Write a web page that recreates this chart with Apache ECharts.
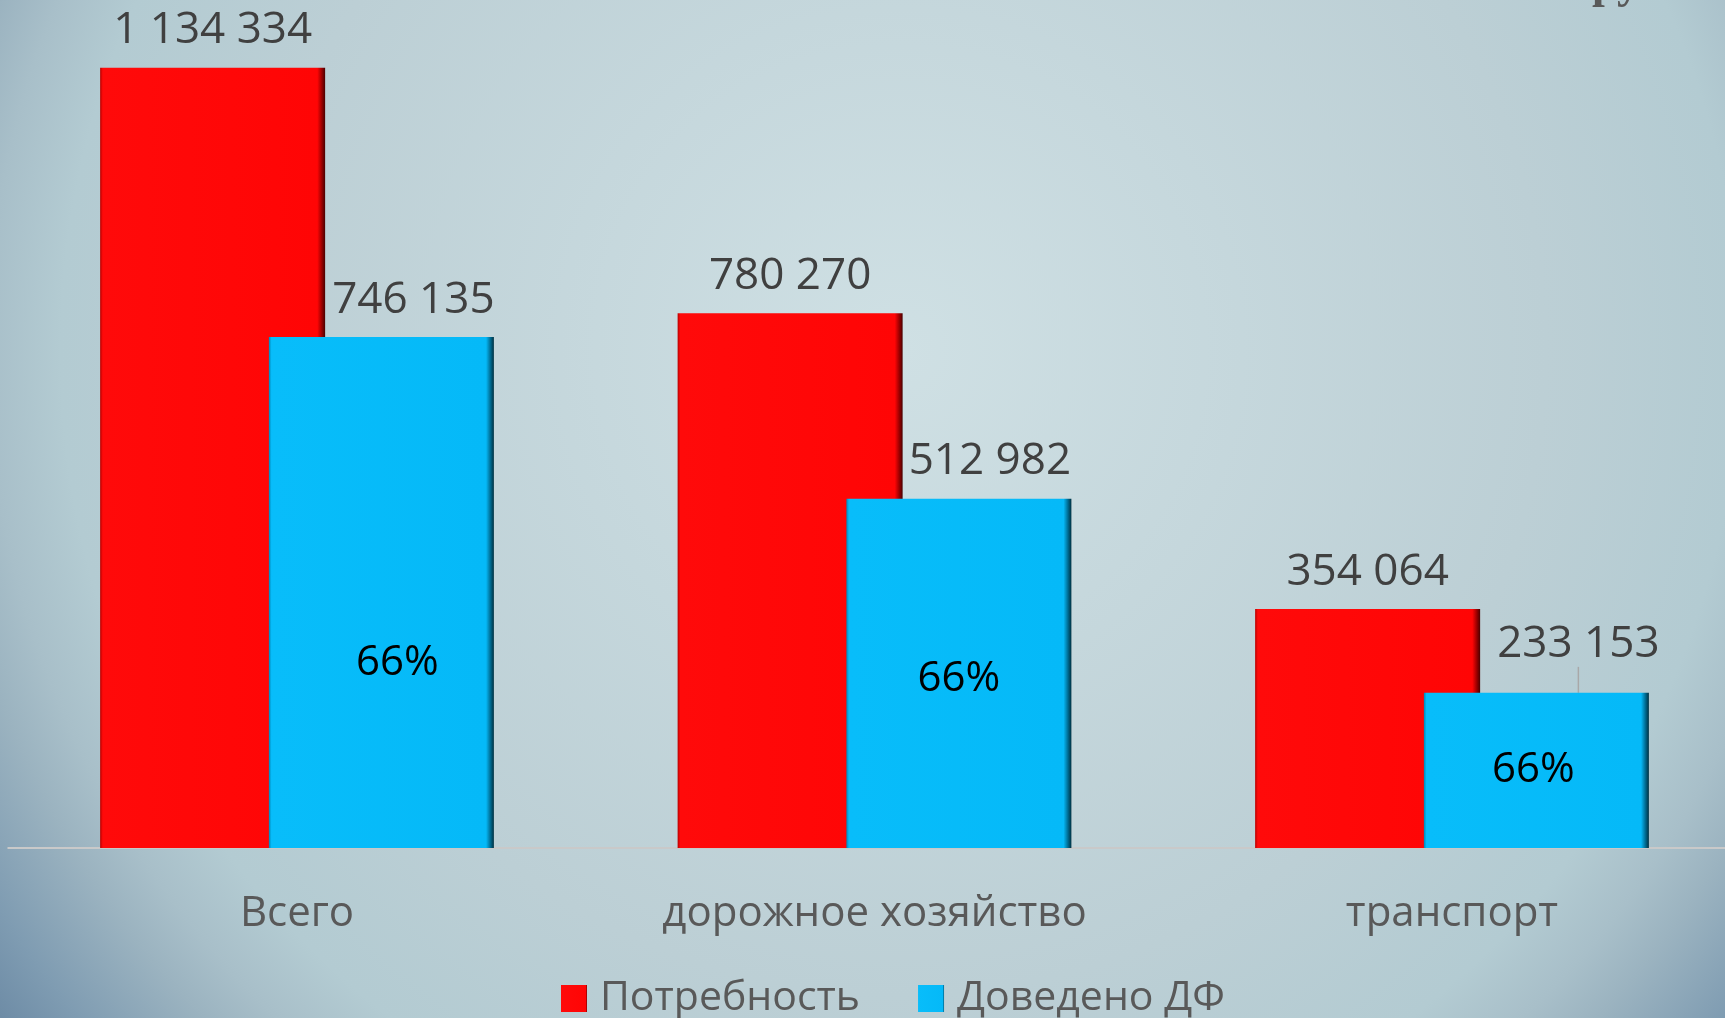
<!DOCTYPE html>
<html>
<head>
<meta charset="utf-8">
<script src="https://cdn.jsdelivr.net/npm/echarts@6/dist/echarts.min.js"></script>
<style>
html,body{margin:0;padding:0;width:1725px;height:1018px;overflow:hidden;}
#chart{width:1725px;height:1018px;}
</style>
</head>
<body>
<div id="chart"></div>
<script>
const categories = ['Всего', 'дорожное хозяйство', 'транспорт'];
const seriesNames = ['Потребность', 'Доведено ДФ'];
const needValues = [1134334, 780270, 354064];
const fundedValues = [746135, 512982, 233153];
const shareLabels = ['66%', '66%', '66%'];

// layout-only settings
const fundedLabelShift = [[32, 0], [31, 0], [42, -11]];
const shareLabelShift = [[16, 71], [0, 6], [-3, 0]];
const FONT = '"Open Sans", "Noto Sans", sans-serif';

function fmt(v) { return String(v).replace(/\B(?=(\d{3})+(?!\d))/g, ' '); }

const redFill = {
  type: 'linear', x: 0, y: 0, x2: 1, y2: 0,
  colorStops: [
    { offset: 0, color: '#b80000' }, { offset: 0.012, color: '#ff0a0a' },
    { offset: 0.965, color: '#ff0505' }, { offset: 0.985, color: '#9a0000' },
    { offset: 1, color: '#4a0000' }
  ]
};
const blueFill = {
  type: 'linear', x: 0, y: 0, x2: 1, y2: 0,
  colorStops: [
    { offset: 0, color: '#0088b8' }, { offset: 0.012, color: '#08bdfa' },
    { offset: 0.965, color: '#05b9f8' }, { offset: 0.985, color: '#006a90' },
    { offset: 1, color: '#003040' }
  ]
};

const chart = echarts.init(document.getElementById('chart'));
chart.setOption({
  animation: false,
  backgroundColor: {
    type: 'radial', x: 0.522, y: 0.344, r: 1.10,
    colorStops: [
      { offset: 0, color: '#cfe0e4' },
      { offset: 0.576, color: '#bccfd5' },
      { offset: 0.75, color: '#b3cbd2' },
      { offset: 0.815, color: '#a8bfc9' },
      { offset: 0.862, color: '#9bb3c0' },
      { offset: 0.946, color: '#7f9cb2' },
      { offset: 1, color: '#6e8ca6' }
    ]
  },
  graphic: [{
    type: 'text', x: 1490, y: 8,
    style: { text: 'тыс. руб.', font: 'bold 46px "Liberation Serif", serif', fill: '#595959', textVerticalAlign: 'bottom', verticalAlign: 'bottom' }
  }],
  grid: { left: 8.25, width: 1732.5, top: 22.2, bottom: 170, containLabel: false, outerBoundsMode: 'none' },
  legend: {
    data: seriesNames,
    left: 561, top: 978, padding: 0,
    itemWidth: 26, itemHeight: 27, itemGap: 58,
    icon: 'rect',
    textStyle: { fontFamily: FONT, fontSize: 41, color: '#595959', padding: [0, 0, 0, 8] }
  },
  xAxis: [{
    type: 'category', data: categories,
    axisLine: { lineStyle: { color: '#c9c9c9', width: 2 } },
    axisTick: { show: false },
    axisLabel: { margin: 45, fontFamily: FONT, fontSize: 42, color: '#595959' }
  }, {
    type: 'category', data: categories, show: false
  }],
  yAxis: { type: 'value', min: 9514, max: 1200000, show: false, splitLine: { show: false } },
  series: [{
    name: seriesNames[0], type: 'bar', data: needValues,
    barWidth: 225, barGap: '-25%',
    itemStyle: { color: redFill },
    label: { show: true, position: 'top', distance: 15, formatter: p => fmt(p.value), fontFamily: FONT, fontSize: 44, color: '#404040' }
  }, {
    name: seriesNames[1], type: 'bar',
    data: fundedValues.map((v, i) => i === 2 ? { value: v, labelLine: { show: true } } : { value: v }),
    barWidth: 225, barGap: '-25%',
    itemStyle: { color: blueFill },
    label: { show: true, position: 'top', distance: 15, formatter: p => fmt(p.value), fontFamily: FONT, fontSize: 44, color: '#404040' },
    labelLayout: p => ({ dx: fundedLabelShift[p.dataIndex][0], dy: fundedLabelShift[p.dataIndex][1] }),
    labelLine: { show: false, lineStyle: { color: '#a8a8a8', width: 1.5 } }
  }, {
    name: '_base', type: 'bar', xAxisIndex: 1, data: needValues, silent: true,
    barWidth: 225, barGap: '-25%',
    itemStyle: { color: 'rgba(0,0,0,0)' }
  }, {
    name: '_share', type: 'bar', xAxisIndex: 1, silent: true,
    data: fundedValues.map((v, i) => ({ value: v, label: { offset: shareLabelShift[i] } })),
    barWidth: 225, barGap: '-25%',
    itemStyle: { color: 'rgba(0,0,0,0)' },
    label: { show: true, position: 'inside', formatter: p => shareLabels[p.dataIndex], fontFamily: FONT, fontSize: 42, color: '#000000' }
  }]
});
</script>
</body>
</html>
